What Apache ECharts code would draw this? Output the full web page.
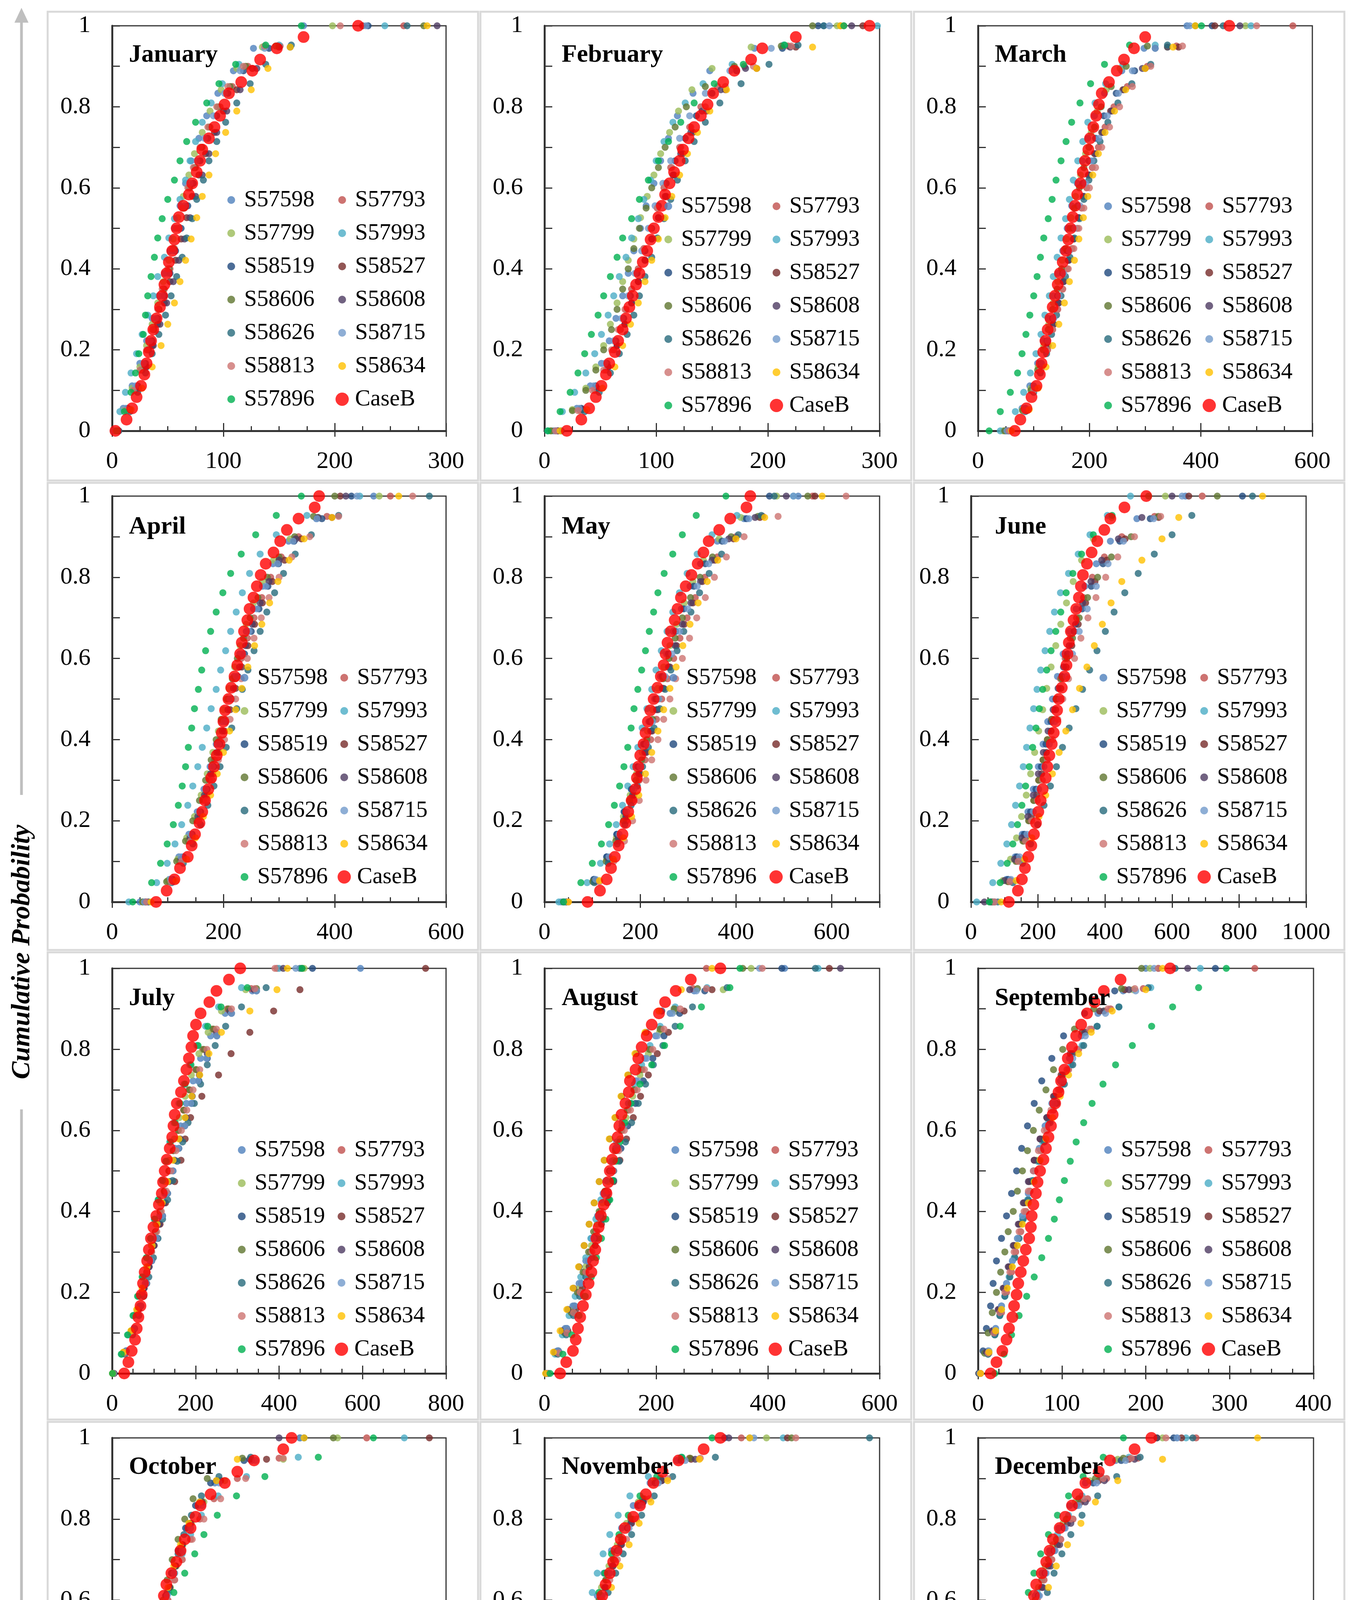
<!DOCTYPE html>
<html>
<head>
<meta charset="utf-8">
<script src="https://cdn.jsdelivr.net/npm/echarts@6/dist/echarts.min.js"></script>
<style>
html,body{margin:0;padding:0;background:#fff}
#chart{width:3482px;height:4971px}
</style>
</head>
<body>
<div id="chart"></div>
<script>
// station order used by every month table below
var stations = ['S57598','S57793','S57799','S57993','S58519','S58527','S58606','S58608','S58626','S58715','S58813','S58634','S57896'];
var months = ['January','February','March','April','May','June','July','August','September','October','November','December'];
var xMax = [300,300,600,600,700,1000,800,600,400,400,400,300];
var xStep = [100,100,200,200,200,200,200,200,100,100,100,100];
var yTicks = [0,0.2,0.4,0.6,0.8,1];

// cumulative probability (plotting positions) by record length
var p19 = [0,0.0556,0.1111,0.1667,0.2222,0.2778,0.3333,0.3889,0.4444,0.5,0.5556,0.6111,0.6667,0.7222,0.7778,0.8333,0.8889,0.9444,1];
var p20 = [0,0.0526,0.1053,0.1579,0.2105,0.2632,0.3158,0.3684,0.4211,0.4737,0.5263,0.5789,0.6316,0.6842,0.7368,0.7895,0.8421,0.8947,0.9474,1];
var p21 = [0,0.05,0.1,0.15,0.2,0.25,0.3,0.35,0.4,0.45,0.5,0.55,0.6,0.65,0.7,0.75,0.8,0.85,0.9,0.95,1];
var p22 = [0,0.0476,0.0952,0.1429,0.1905,0.2381,0.2857,0.3333,0.381,0.4286,0.4762,0.5238,0.5714,0.619,0.6667,0.7143,0.7619,0.8095,0.8571,0.9048,0.9524,1];
var p37 = [0,0.0278,0.0556,0.0833,0.1111,0.1389,0.1667,0.1944,0.2222,0.25,0.2778,0.3056,0.3333,0.3611,0.3889,0.4167,0.4444,0.4722,0.5,0.5278,0.5556,0.5833,0.6111,0.6389,0.6667,0.6944,0.7222,0.75,0.7778,0.8056,0.8333,0.8611,0.8889,0.9167,0.9444,0.9722,1];
var plotPos = {19:p19, 20:p20, 21:p21, 22:p22, 37:p37};

// precipitation (mm), sorted, one row per station
var jan = [
 [2,10,18,25,31,36,42,47,52,56,61,66,71,78,85,95,109,127,172],
 [4,13,20,27,33,38,42,47,52,56,60,65,70,75,81,88,97,108,122,151,262],
 [3,11,18,25,31,36,41,46,51,55,59,64,69,74,81,88,98,112,135,198],
 [1,7,12,17,22,27,32,37,41,47,51,56,61,66,70,75,81,89,99,114,150,245],
 [5,14,23,30,36,41,47,52,57,62,68,73,79,86,94,104,118,141,230],
 [5,15,23,30,36,41,47,52,57,62,67,72,78,84,92,100,112,126,150,225],
 [4,13,20,26,32,37,42,46,51,55,60,64,69,74,80,87,95,106,120,147,280],
 [6,16,24,31,37,43,49,55,60,65,70,75,81,87,94,103,115,130,160,292],
 [6,16,23,30,36,42,48,53,58,63,67,72,76,82,87,94,102,112,124,138,161,265],
 [3,12,21,28,34,39,45,50,55,60,65,70,76,83,91,101,115,137,228],
 [3,12,19,25,31,36,41,45,50,54,58,63,68,73,79,86,94,104,118,137,205],
 [4,17,27,36,44,50,56,61,66,71,76,81,87,93,102,112,125,140,160,283],
 [4,11,17,21,24,28,30,32,35,38,41,45,50,56,61,67,75,85,96,111,138,170]
];
var janB = [3,13,18,22,26,29,31,33,35,37,40,43,45,47,49,51,54,56,58,60,64,69,72,76,79,81,87,92,97,101,105,116,126,133,148,172,221];

var feb = [
 [8,29,41,51,58,64,70,75,80,86,91,98,104,111,119,133,148,188,250],
 [12,32,45,55,62,68,73,78,84,89,95,101,107,113,121,130,140,155,179,218,265],
 [5,25,37,46,53,59,65,70,75,80,86,92,98,104,112,120,132,150,185,262],
 [3,16,27,37,45,51,57,62,67,73,78,84,89,95,100,107,115,126,142,168,214,298],
 [10,33,46,56,64,71,77,83,90,96,102,109,117,126,136,150,172,213,245],
 [12,34,47,57,65,72,78,84,90,96,102,109,116,124,133,145,162,190,225,285],
 [6,25,37,46,53,60,65,70,75,80,85,91,96,102,108,117,127,144,170,212,240],
 [12,34,47,57,65,72,78,84,90,96,102,108,115,122,131,141,158,180,220,275],
 [15,36,49,59,67,74,80,85,90,96,101,107,113,119,126,134,144,157,176,201,227,250],
 [10,31,44,54,62,69,75,81,87,93,99,106,113,121,130,144,166,203,255],
 [10,30,43,53,60,66,72,78,84,89,95,101,107,114,122,131,144,162,187,221,268],
 [14,38,52,63,70,77,84,90,96,102,108,114,121,128,137,148,163,190,240,265],
 [3,14,23,30,36,42,48,53,59,65,70,78,85,93,102,111,122,134,152,178,215,268]
];
var febB = [20,33,40,46,51,55,58,63,66,70,73,76,79,82,85,88,92,95,98,102,105,108,112,116,121,124,129,134,140,146,151,160,170,185,195,225,291];

var mar = [
 [50,79,93,107,117,126,135,143,152,160,168,178,187,197,209,227,258,298,375],
 [55,84,98,113,125,134,143,152,160,169,178,186,195,205,216,228,244,268,304,356,565],
 [45,80,95,108,118,127,135,143,151,159,167,175,184,193,203,214,230,255,340,480],
 [40,67,82,94,104,113,120,128,135,142,149,157,164,171,179,188,197,210,229,260,318,490],
 [52,85,99,113,124,134,143,152,160,170,179,188,199,211,226,248,281,318,420],
 [55,86,101,114,125,135,144,153,162,171,180,189,198,209,222,238,260,300,360,425],
 [48,80,95,107,117,126,134,142,150,157,165,173,182,190,199,209,221,239,266,304,390],
 [55,87,102,115,126,136,145,154,163,172,181,190,200,211,224,240,262,295,340,470],
 [58,85,100,112,123,132,141,149,157,165,173,182,190,199,208,219,233,251,276,310,340,440],
 [52,85,100,114,125,136,145,154,164,174,183,193,204,217,232,252,277,318,380],
 [56,84,100,112,124,134,143,152,162,172,181,190,200,211,222,236,254,277,310,367,500],
 [60,92,108,122,134,145,155,164,173,181,189,197,206,216,228,245,265,300,350,390],
 [20,40,58,71,79,86,93,100,106,112,118,126,133,140,149,158,168,183,202,227,272,401]
];
var marB = [66,76,87,96,105,111,114,117,121,125,130,134,138,143,147,152,158,162,166,170,174,178,184,188,192,198,201,207,212,217,222,235,249,262,280,300,451];

var apr = [
 [50,103,120,138,153,165,176,187,197,208,219,229,241,254,270,289,317,367,470],
 [60,103,121,137,152,164,175,184,194,204,213,222,232,243,255,269,285,304,335,386,500],
 [55,100,118,134,148,160,171,181,191,200,210,220,230,241,254,270,290,320,370,480],
 [30,80,99,113,125,136,145,154,162,170,178,187,195,204,213,223,234,247,266,295,350,445],
 [60,109,128,144,159,171,183,194,204,215,226,238,250,264,280,299,327,377,430],
 [65,110,128,144,158,170,181,192,202,212,222,233,244,256,270,288,310,340,395,410],
 [55,98,116,132,145,157,168,178,187,196,206,216,225,236,248,262,279,300,328,362,400],
 [60,106,124,140,154,166,177,188,198,208,218,229,240,252,266,282,300,330,370,420],
 [65,107,128,145,159,172,183,194,205,215,224,234,244,255,266,278,292,308,329,358,407,570],
 [58,105,124,141,156,168,180,191,201,212,223,234,246,260,276,297,325,368,440],
 [62,106,125,141,156,169,180,191,202,212,222,232,243,255,268,282,300,323,355,407,540],
 [70,115,134,150,164,177,189,200,211,222,233,244,256,269,283,298,318,345,395,515],
 [37,71,87,99,110,119,126,132,137,143,148,155,161,168,177,187,199,213,232,258,295,340]
];
var aprB = [79,98,112,122,136,143,149,157,162,167,173,178,183,188,193,197,200,203,209,214,220,225,230,233,237,243,247,254,260,267,276,290,302,314,335,364,372];

var may = [
 [35,104,130,151,166,181,194,206,218,230,242,255,269,286,304,326,361,417,530],
 [45,107,135,155,171,185,198,210,222,234,245,257,270,283,298,315,335,361,400,456,560],
 [40,102,130,150,165,179,192,204,215,226,237,249,262,276,292,310,332,365,410,485],
 [30,89,117,136,150,163,174,185,195,204,214,224,233,244,256,268,282,298,319,350,402,520],
 [40,103,130,151,167,182,195,208,220,233,246,259,274,291,312,336,371,422,470],
 [45,108,136,156,172,187,200,213,225,237,249,262,276,292,310,330,356,395,450,565],
 [40,101,129,149,165,178,191,203,214,226,237,248,260,273,288,305,325,351,390,446,550],
 [42,106,134,154,170,184,197,210,222,234,246,259,273,288,306,326,350,385,440,505],
 [45,104,133,152,168,181,194,205,217,229,241,252,264,277,291,306,324,344,370,405,453,480],
 [42,107,135,156,172,187,200,214,226,239,252,266,282,299,319,343,376,427,520],
 [50,115,145,167,184,198,212,224,237,249,262,274,288,303,318,336,355,380,417,488,630],
 [50,115,144,165,182,197,211,224,237,249,262,275,289,304,321,340,362,400,460,580],
 [40,76,100,119,134,146,157,166,174,181,187,195,203,211,219,228,237,250,268,288,317,379]
];
var mayB = [90,116,130,139,147,155,163,169,175,182,190,193,196,200,207,211,216,221,228,236,243,249,253,257,264,272,278,285,295,307,320,332,343,365,388,422,430];

var jun = [
 [60,106,132,153,170,186,201,215,229,243,258,275,294,314,340,374,416,495,640],
 [70,113,138,157,174,188,202,215,228,240,253,267,281,296,315,336,362,398,450,548,690],
 [55,95,118,136,151,165,178,190,202,214,226,239,253,268,285,305,330,365,420,580],
 [17,65,89,107,121,133,145,156,166,176,187,197,208,221,235,249,267,291,320,355,407,476],
 [60,111,137,159,178,194,210,224,239,254,271,288,308,332,359,394,444,535,810],
 [70,118,143,163,180,196,211,225,239,253,268,284,301,320,342,370,405,460,560,650],
 [65,110,134,155,172,187,202,215,228,242,256,270,286,303,323,348,378,419,478,559,735],
 [40,100,130,152,170,186,201,216,230,245,260,276,293,312,333,358,390,440,510,600],
 [80,125,154,178,199,218,237,255,273,293,313,333,354,376,401,427,459,499,547,600,659,840],
 [70,119,145,167,186,202,218,234,250,266,284,303,323,347,374,409,455,545,630],
 [70,116,141,163,181,198,213,228,244,259,274,291,309,328,349,373,402,438,488,566,690],
 [90,135,160,182,203,223,243,263,283,303,324,346,368,392,418,450,510,570,620,870],
 [55,87,108,125,139,152,163,174,184,194,204,214,226,239,253,268,284,304,330,365,421,530]
];
var junB = [113,140,152,161,171,180,188,194,201,208,214,223,228,234,241,247,252,257,262,271,279,285,288,292,298,306,314,322,328,334,346,360,377,398,416,458,523];

var jul = [
 [3,33,52,66,79,91,103,114,126,138,151,164,178,194,212,236,271,336,595],
 [2,29,46,60,72,83,94,104,115,125,136,146,158,171,184,200,217,240,276,333,395],
 [2,28,46,60,72,83,94,105,116,126,137,149,161,175,190,208,230,262,320,460],
 [1,23,39,52,63,74,83,92,101,110,120,128,138,148,160,172,186,203,224,255,310,400],
 [3,34,54,69,83,95,108,121,133,146,160,174,191,208,228,251,286,346,480],
 [5,30,47,62,76,88,100,115,128,150,165,175,188,215,255,285,330,387,450,751],
 [2,29,46,60,72,83,94,104,115,125,136,147,159,172,186,202,220,243,279,346,455],
 [3,32,50,64,77,89,101,113,125,137,150,163,177,192,209,228,250,282,340,410],
 [4,31,49,64,76,88,99,110,121,133,145,156,169,182,197,212,228,247,272,310,369,450],
 [3,34,53,68,82,94,107,120,132,146,159,174,189,206,226,251,286,346,440],
 [2,29,46,60,72,84,95,107,118,130,141,153,166,179,194,210,227,250,286,342,390],
 [1,27,45,59,72,84,96,108,120,133,146,160,175,191,210,232,262,330,395,420],
 [1,22,37,50,61,72,82,92,102,111,121,130,140,151,163,175,189,206,229,261,324,455]
];
var julB = [29,39,47,55,59,63,68,71,74,78,84,88,93,99,106,112,119,122,126,131,138,144,147,150,155,165,172,178,184,190,194,201,212,233,250,280,307];

var aug = [
 [4,23,37,51,62,74,84,95,105,116,127,139,151,164,180,199,225,268,430],
 [6,24,38,51,62,72,82,92,101,110,120,130,139,150,162,175,190,209,234,266,290],
 [5,24,39,52,63,74,84,94,104,114,124,135,146,158,171,186,206,235,320,370],
 [3,19,32,44,55,65,74,83,92,101,110,120,129,139,150,161,174,189,207,234,291,490],
 [5,25,40,54,66,78,90,101,113,124,137,149,163,177,194,214,242,287,425],
 [6,26,42,56,68,80,91,102,113,124,135,147,159,172,186,202,222,250,300,510],
 [4,21,36,48,59,69,79,88,98,108,117,127,137,148,160,173,188,207,232,274,355],
 [3,18,31,42,52,62,71,80,89,98,107,117,127,138,150,164,182,210,260,530],
 [6,24,39,52,63,74,85,95,105,115,124,134,145,156,168,181,195,212,234,265,327,485],
 [5,25,40,54,65,77,87,98,108,119,130,142,154,167,183,202,229,272,385],
 [6,25,40,52,64,74,85,94,104,114,123,133,143,154,166,179,194,214,243,290,390],
 [2,16,28,40,51,61,71,80,89,98,107,116,126,137,149,162,180,205,245,300],
 [10,33,49,62,73,84,93,102,110,117,122,128,135,144,155,171,192,215,243,281,332,350]
];
var augB = [28,39,51,56,60,64,69,74,79,84,87,91,93,97,101,106,111,114,117,121,126,131,134,138,145,151,153,163,168,174,183,192,205,216,235,262,315];

var sep = [
 [2,12,21,28,34,41,47,53,60,66,73,80,88,98,109,123,143,173,200],
 [3,13,21,28,34,40,45,51,57,62,68,75,82,90,98,108,120,135,158,197,330],
 [2,13,21,28,34,40,46,52,58,64,70,77,84,92,101,112,127,150,185,205],
 [2,12,20,26,32,37,43,48,53,59,64,71,77,84,92,101,111,124,142,168,206,265],
 [1,6,10,15,18,22,28,34,40,46,52,59,67,76,88,102,127,163,283],
 [2,11,18,25,31,37,43,49,55,61,67,74,82,90,99,110,124,145,175,215],
 [1,8,12,17,22,27,32,36,42,47,53,59,66,73,81,90,101,115,138,171,195],
 [1,10,17,24,30,36,42,48,54,60,67,74,82,91,101,113,128,150,180,250],
 [2,12,20,26,32,38,44,49,54,60,66,73,79,86,94,103,113,126,142,168,203,235],
 [2,13,21,28,34,41,47,53,60,66,74,82,91,101,113,128,152,188,210],
 [3,12,19,26,32,38,43,49,55,60,66,72,79,87,96,106,118,133,155,187,215],
 [3,13,21,28,35,41,47,53,60,67,74,81,89,98,108,120,135,160,200,220],
 [20,31,40,49,58,67,76,84,91,97,103,110,117,126,136,149,164,184,207,232,263,296]
];
var sepB = [15,22,29,34,37,41,43,46,48,51,54,57,61,63,64,66,69,71,74,78,81,84,87,89,92,96,99,103,107,112,117,123,130,139,150,170,229];

var oct = [
 [0,4,10,15,20,26,32,39,46,52,58,65,73,81,90,103,123,167,225],
 [0,4,8,13,18,24,29,35,41,47,54,60,67,75,84,94,105,122,150,200,305],
 [0,5,10,15,21,27,33,39,45,51,57,63,70,77,85,95,110,135,205,270],
 [0,4,8,13,18,23,29,34,39,45,50,56,62,68,75,84,94,107,127,161,223,350],
 [0,4,10,15,20,26,32,38,45,51,57,64,71,79,88,100,118,158,230],
 [0,5,10,15,20,26,32,38,44,50,56,62,69,76,84,94,108,130,185,380],
 [0,5,10,14,19,24,29,35,41,46,51,56,61,66,72,79,87,97,114,156,265],
 [0,4,9,14,20,26,32,38,44,50,56,62,69,76,84,93,105,125,165,200],
 [0,5,9,14,18,23,29,34,39,44,49,55,60,66,72,79,86,95,107,128,166,225],
 [0,4,10,15,20,27,33,39,46,52,59,66,74,84,94,108,128,172,225],
 [0,3,7,10,14,19,24,29,35,42,49,57,65,74,84,96,110,130,160,205,305],
 [0,5,10,15,20,26,32,38,44,49,55,61,67,74,82,92,105,125,150,230],
 [1,4,7,12,16,21,25,30,34,40,48,58,65,74,87,99,110,126,149,183,247,313]
];
var octB = [0,2,6,10,13,16,18,20,23,25,27,29,31,34,38,41,44,47,51,55,57,60,62,65,71,77,82,87,94,100,106,118,135,150,170,205,215];

var nov = [
 [1,6,12,17,22,27,33,38,44,50,56,63,71,80,92,106,126,158,245],
 [1,7,12,16,21,26,31,36,42,47,53,59,66,74,83,93,105,119,139,173,235],
 [1,6,11,16,21,26,31,36,42,48,54,61,68,77,87,98,112,132,165,265],
 [1,5,8,13,16,20,24,28,32,36,40,46,51,57,63,70,78,88,102,124,163,285],
 [1,7,13,18,23,28,34,40,47,53,60,68,77,87,99,112,132,163,215],
 [1,7,12,17,22,28,33,39,45,51,58,65,73,82,92,104,118,140,175,290],
 [1,6,10,15,20,25,30,35,41,46,52,58,65,73,82,92,103,117,138,174,295],
 [1,7,12,17,22,27,33,38,44,50,57,64,72,81,91,103,118,140,180,220],
 [2,7,13,18,22,27,33,38,43,49,55,62,68,76,85,94,104,116,131,153,204,388],
 [1,7,13,18,23,29,35,40,47,54,61,69,78,89,101,116,136,168,250],
 [1,7,12,16,22,27,32,38,44,49,56,62,69,78,87,98,110,125,147,186,300],
 [2,8,14,20,25,31,37,43,49,56,63,71,80,90,101,113,127,147,185,245],
 [1,5,10,15,19,24,28,33,37,42,47,53,59,65,72,80,89,100,114,134,164,200]
];
var novB = [2,6,10,13,15,17,20,23,24,26,28,30,34,37,39,42,45,48,53,57,61,66,69,73,78,82,86,91,96,106,114,121,130,141,160,190,210];

var dec = [
 [0,5,10,15,19,23,27,32,36,40,46,51,57,64,72,82,96,123,178],
 [0,6,10,14,18,22,26,30,34,39,44,48,53,59,66,74,85,98,115,143,195],
 [0,5,10,14,18,22,26,30,34,39,44,49,54,60,67,76,87,100,125,165],
 [0,5,8,12,16,19,23,26,30,35,38,43,47,53,58,64,71,81,93,110,135,186],
 [0,6,11,16,20,24,28,33,37,42,48,54,60,68,77,88,103,128,175],
 [0,6,11,15,19,23,27,32,36,41,46,51,57,63,71,80,92,108,135,182],
 [0,5,10,13,17,21,25,29,33,37,42,46,51,57,63,70,79,90,105,130,160],
 [0,6,11,15,19,23,28,32,37,42,47,52,58,65,73,83,96,113,140,160],
 [0,6,11,16,20,23,27,32,36,41,45,51,56,62,68,75,83,93,107,124,145,192],
 [0,6,11,16,20,24,28,33,38,43,48,55,61,69,78,90,106,132,178],
 [0,6,10,14,18,22,26,30,34,39,44,48,53,59,66,74,83,95,112,137,168],
 [1,8,13,18,22,27,31,36,41,46,51,57,63,70,80,92,105,125,165,250],
 [0,4,7,11,15,18,20,23,26,30,33,37,40,45,50,56,63,71,81,94,112,130]
];
var decB = [0,3,6,9,11,12,14,16,18,19,21,23,25,28,31,33,35,37,39,41,43,46,50,52,57,61,64,67,73,78,84,89,96,108,118,140,155];

var monthSt = [jan,feb,mar,apr,may,jun,jul,aug,sep,oct,nov,dec];
var monthB = [janB,febB,marB,aprB,mayB,junB,julB,augB,sepB,octB,novB,decB];

// ---- layout (pixels) ----
var colors = ['#4f81bd','#c0504d','#9bbb59','#4bacc6','#1f497d','#772c2a','#5f7530','#4d3b62','#276a7c','#729aca','#cd7371','#ffc000','#00b050'];
var caseColor = '#ff0000';
var axisColor = '#333333';
var serif = 'Liberation Serif';
var plotLeft = [287,1394,2504,287,1394,2486,287,1394,2504,287,1394,2504];
var plotRight = [1142,2252,3360,1142,2252,3344,1142,2252,3363,1142,2252,3363];
var rowTop = [66,1270,2479,3681];
var rowBottom = [1103,2309,3516,4720];
var titleX = [330,1438,2547];
var titleY = [141,1349,2556,3756];
var legX = [603,1722,2848,637,1735,2836,630,1740,2848,630,1740,2848];
var legY = [512,528,528,1735,1735,1735,2944,2944,2944,4147,4147,4147];
var legPitch = [295,288,270,266,274,269,266,267,268,266,267,268];
var boxX = [122,1230,2340], boxW = [1102,1103,1102];
var boxY = [30,1236,2438,3640], boxH = [1200,1196,1196,1172];

// small dot inside a 34x34 box so station icons stay smaller than CaseB's
var stationIcon = 'path://M0,0L0,0M34,34L34,34M7,17A10,10,0,1,1,27,17A10,10,0,1,1,7,17Z';
var legendData = stations.map(function(s){ return {name:s, icon:stationIcon}; });
legendData.push({name:'CaseB', icon:'circle'});

function toPoints(xs){
  var pos = plotPos[xs.length];
  if (!pos) { console.warn('no plotting positions for n=' + xs.length); return []; }
  return xs.map(function(x, i){ return [x, pos[i]]; });
}

var option = {
  animation:false,
  backgroundColor:'#ffffff',
  grid:[], xAxis:[], yAxis:[], series:[], legend:[], title:[], graphic:[]
};

for (var m = 0; m < 12; m++) {
  var r = Math.floor(m / 3), c = m % 3;
  option.grid.push({left:plotLeft[m], top:rowTop[r], width:plotRight[m] - plotLeft[m], height:rowBottom[r] - rowTop[r],
    show:true, borderColor:axisColor, borderWidth:3, backgroundColor:'transparent', outerBoundsMode:'none'});

  option.xAxis.push({
    gridIndex:m, type:'value', min:0, max:xMax[m], interval:xStep[m],
    axisLine:{show:true, onZero:false, lineStyle:{color:axisColor, width:5}},
    axisTick:{show:true, inside:true, length:20, lineStyle:{color:axisColor, width:3}},
    minorTick:{show:true, splitNumber:4, length:12, lineStyle:{color:axisColor, width:3}},
    axisLabel:{fontFamily:serif, fontSize:62, color:'#000', margin:48, showMaxLabel:(m === 4 ? false : null),
      formatter:function(v){ return String(v); }},
    splitLine:{show:false}, minorSplitLine:{show:false}
  });
  option.yAxis.push({
    gridIndex:m, type:'value', min:0, max:1, interval:0.2,
    axisLine:{show:true, onZero:false, lineStyle:{color:axisColor, width:5}},
    axisTick:{show:true, inside:true, length:20, lineStyle:{color:axisColor, width:3}},
    minorTick:{show:true, splitNumber:2, length:20, lineStyle:{color:axisColor, width:3}},
    axisLabel:{fontFamily:serif, fontSize:62, color:'#000', margin:55,
      formatter:function(v){ return yTicks.indexOf(v) >= 0 ? String(v) : ''; }},
    splitLine:{show:false}
  });

  var st = monthSt[m];
  for (var s = 0; s < stations.length; s++) {
    option.series.push({
      name:stations[s], type:'scatter', xAxisIndex:m, yAxisIndex:m,
      symbol:'circle', symbolSize:18, silent:true,
      itemStyle:{color:colors[s]},
      data:toPoints(st[s])
    });
  }
  option.series.push({
    name:'CaseB', type:'scatter', xAxisIndex:m, yAxisIndex:m,
    symbol:'circle', symbolSize:30, silent:true,
    itemStyle:{color:caseColor},
    data:toPoints(monthB[m])
  });

  var pitch = legPitch[m];
  option.legend.push({
    left:legX[m] - 28, top:legY[m] - 30, width:2 * pitch, orient:'horizontal',
    padding:0, itemWidth:56, itemHeight:34, itemGap:25, selectedMode:false,
    textStyle:{fontFamily:serif, fontSize:59, color:'#000', width:pitch - 86, lineHeight:60},
    data:legendData
  });

  option.title.push({
    text:months[m], left:titleX[c], top:titleY[r] - 32, padding:0,
    textStyle:{fontFamily:serif, fontWeight:'bold', fontSize:64, color:'#000'}
  });
}

// second layer: x-axis major ticks that cross the axis line downward
for (var k = 0; k < 12; k++) {
  var rr = Math.floor(k / 3);
  option.grid.push({left:plotLeft[k], top:rowTop[rr], width:plotRight[k] - plotLeft[k], height:rowBottom[rr] - rowTop[rr], show:false, outerBoundsMode:'none'});
  option.xAxis.push({
    gridIndex:12 + k, type:'value', min:0, max:xMax[k], interval:xStep[k], position:'bottom',
    axisLine:{show:false}, axisLabel:{show:false}, splitLine:{show:false},
    axisTick:{show:true, inside:false, length:15, lineStyle:{color:axisColor, width:3}}
  });
  option.yAxis.push({gridIndex:12 + k, type:'value', min:0, max:1, show:false});
}

// panel frames
for (var bi = 0; bi < 4; bi++) {
  for (var bj = 0; bj < 3; bj++) {
    option.graphic.push({type:'rect', z:-1, shape:{x:boxX[bj], y:boxY[bi], width:boxW[bj], height:boxH[bi]},
      style:{fill:'none', stroke:'#d9d9d9', lineWidth:5}});
  }
}

// outer arrows and shared axis titles
var arrowColor = '#bfbfbf';
var bigFont = 'italic bold 68px "Liberation Serif"';
option.graphic.push(
  {type:'line', shape:{x1:55, y1:4875, x2:55, y2:2840}, style:{stroke:arrowColor, lineWidth:7}},
  {type:'line', shape:{x1:55, y1:2035, x2:55, y2:50}, style:{stroke:arrowColor, lineWidth:7}},
  {type:'polygon', shape:{points:[[55,20],[37,58],[73,58]]}, style:{fill:arrowColor}},
  {type:'line', shape:{x1:52, y1:4872, x2:1420, y2:4872}, style:{stroke:arrowColor, lineWidth:7}},
  {type:'line', shape:{x1:2128, y1:4872, x2:3435, y2:4872}, style:{stroke:arrowColor, lineWidth:7}},
  {type:'polygon', shape:{points:[[3468,4872],[3430,4854],[3430,4890]]}, style:{fill:arrowColor}},
  {type:'text', x:1774, y:4880, style:{text:'Precipitation(mm)', font:bigFont, fill:'#000', align:'center', verticalAlign:'middle'}},
  {type:'text', x:57, y:2437, rotation:Math.PI / 2, style:{text:'Cumulative Probability', font:bigFont, fill:'#000', align:'center', verticalAlign:'middle'}}
);

var myChart = echarts.init(document.getElementById('chart'), null, {renderer:'canvas'});
myChart.setOption(option);
</script>
</body>
</html>
